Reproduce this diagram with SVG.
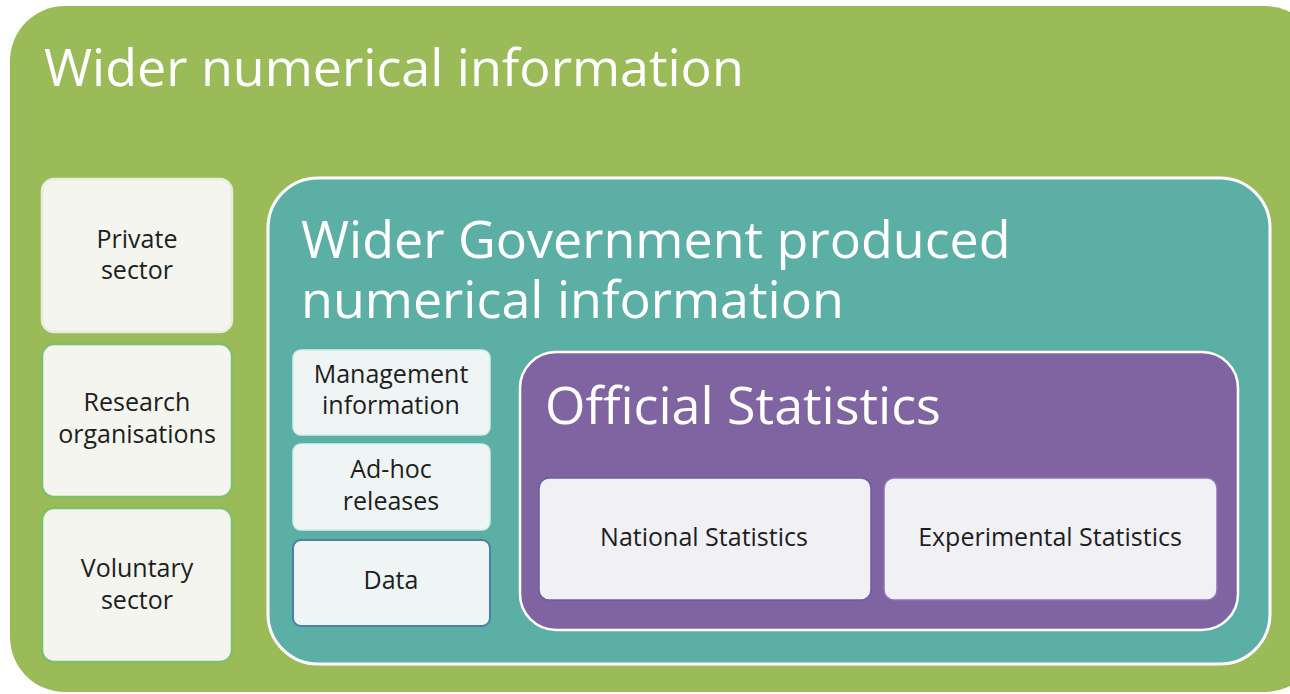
<svg xmlns="http://www.w3.org/2000/svg" width="1290" height="694" viewBox="0 0 1290 694">
<style>
.big{font-family:"Open Sans","Noto Sans",sans-serif;fill:#ffffff;font-size:52px}
.sm{font-family:"Open Sans","Noto Sans",sans-serif;fill:#1e1e1e;font-size:25px;text-anchor:middle}
.leftbox{fill:#f3f5ee;stroke:#7cc068;stroke-width:2.5}
.midbox{fill:#eef5f4;stroke:#d8ece9;stroke-width:1.5}
.statbox{fill:#f1f0f5;stroke:#6a5da8;stroke-width:1.5}
</style>
<rect width="1290" height="694" fill="#ffffff"/>
<g id="wider-numerical">
<rect x="10" y="6" width="1310" height="686" rx="55" fill="#9bbb59"/>
<text class="big" x="44" y="86">Wider numerical information</text>
</g>
<g id="private-sector">
<rect class="leftbox" x="42" y="179" width="190" height="153" rx="12" style="stroke:#e6eedb"/>
<text class="sm" x="137" y="248"><tspan x="137">Private</tspan><tspan x="137" dy="31">sector</tspan></text>
</g>
<g id="research-organisations">
<rect class="leftbox" x="42" y="344" width="190" height="153" rx="12"/>
<text class="sm" x="137" y="411"><tspan x="137">Research</tspan><tspan x="137" dy="32">organisations</tspan></text>
</g>
<g id="voluntary-sector">
<rect class="leftbox" x="42" y="508" width="190" height="154" rx="12"/>
<text class="sm" x="137" y="577"><tspan x="137">Voluntary</tspan><tspan x="137" dy="32">sector</tspan></text>
</g>
<g id="wider-government">
<rect x="268" y="178" width="1002" height="486" rx="50" fill="#5bafa5" stroke="#ffffff" stroke-width="3"/>
<text class="big" x="301" y="258"><tspan x="301">Wider Government produced</tspan><tspan x="301" dy="60">numerical information</tspan></text>
</g>
<g id="management-information">
<rect class="midbox" x="293" y="350" width="197" height="85" rx="8"/>
<text class="sm" x="391" y="383"><tspan x="391">Management</tspan><tspan x="391" dy="31">information</tspan></text>
</g>
<g id="ad-hoc-releases">
<rect class="midbox" x="293" y="444" width="197" height="86" rx="8"/>
<text class="sm" x="391" y="478"><tspan x="391">Ad-hoc</tspan><tspan x="391" dy="32">releases</tspan></text>
</g>
<g id="data">
<rect class="midbox" x="293" y="540" width="197" height="86" rx="8" style="stroke:#4a7fa6;stroke-width:2"/>
<text class="sm" x="391" y="589">Data</text>
</g>
<g id="official-statistics">
<rect x="520" y="352" width="718" height="278" rx="36" fill="#8064a2" stroke="#ffffff" stroke-width="2.5"/>
<text class="big" x="545" y="424">Official Statistics</text>
</g>
<g id="national-statistics">
<rect class="statbox" x="539" y="478" width="332" height="122" rx="10"/>
<text class="sm" x="704" y="546">National Statistics</text>
</g>
<g id="experimental-statistics">
<rect class="statbox" x="884" y="478" width="333" height="122" rx="10" style="stroke:#8a76b4"/>
<text class="sm" x="1050" y="546">Experimental Statistics</text>
</g>
<g id="connectors"/>
</svg>
